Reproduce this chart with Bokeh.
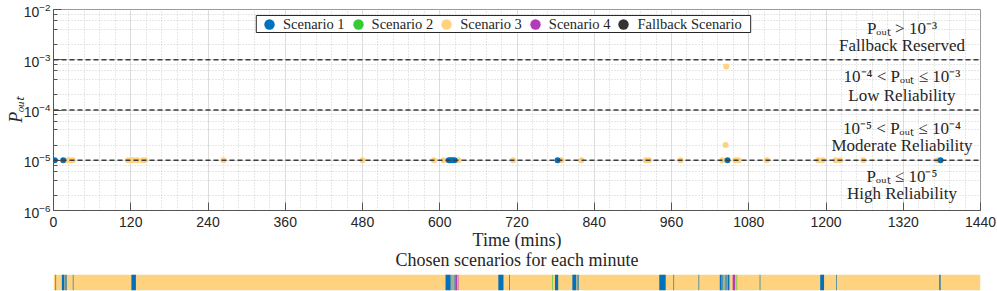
from bokeh.plotting import figure
from bokeh.models import (FixedTicker, LogTicker, Span, Label, Legend, LegendItem,
                          ColumnDataSource, Range1d, Title, BoxAnnotation)
from bokeh.layouts import column
from bokeh.embed import file_html
from bokeh.resources import INLINE

# ---------------- data ----------------
scenario_names = ["Scenario 1", "Scenario 2", "Scenario 3", "Scenario 4", "Fallback Scenario"]
scenario_colors = ["#0072BD", "#33CC33", "#FFD27F", "#B33BB9", "#333333"]

# scatter points (time in minutes, outage probability)
s1_time = [2, 15, 614, 617, 620, 623, 783, 1047, 1378]
s1_pout = [1e-5] * 9
s3_time = [22, 26, 30, 116, 121, 124, 130, 138, 142, 264, 480, 591, 606, 629, 714,
           789, 820, 920, 925, 974, 1039, 1044, 1045, 1059, 1064, 1108, 1188, 1195,
           1215, 1222, 1258, 1373]
s3_pout = [1e-5] * 21 + [2e-5, 7.3e-4] + [1e-5] * 9

# thresholds
thresholds = [1e-3, 1e-4, 1e-5]

# chosen scenario per minute, as runs: [start, end) minute, scenario index
seg_start = [0, 3, 13, 18, 20, 30, 121, 609, 618, 620, 622, 624, 628, 691, 708, 775, 779,
             806, 813, 815, 941, 963, 1002, 1035, 1039, 1041, 1043, 1045, 1047, 1055,
             1061, 1097, 1191, 1216, 1376]
seg_end = [1440, 4, 17, 19, 21, 31, 128, 617, 619, 621, 623, 627, 629, 699, 709, 776, 784,
           812, 814, 816, 951, 964, 1003, 1038, 1040, 1042, 1044, 1046, 1050, 1059,
           1062, 1098, 1197, 1217, 1378]
seg_scen = [3, 1, 1, 1, 1, 1, 1, 1, 2, 1, 1, 4, 4, 1, 1, 2, 1,
            1, 1, 1, 1, 1, 1, 1, 1, 1, 1, 1, 1, 4,
            2, 1, 1, 1, 1]

x_ticks = list(range(0, 1441, 120))
x_minor = list(range(0, 1441, 24))

SERIF = "Liberation Serif"
SANS = "Liberation Sans"

# ---------------- main figure ----------------
p = figure(width=997, height=274, output_backend="svg", toolbar_location=None,
           y_axis_type="log", x_range=Range1d(0, 1440), y_range=Range1d(1e-6, 1e-2),
           min_border_left=53, min_border_right=17, min_border_top=9, min_border_bottom=64)
p.outline_line_color = "#9a9a9a"

p.xaxis.ticker = FixedTicker(ticks=x_ticks, minor_ticks=x_minor)
p.yaxis.ticker = LogTicker(desired_num_ticks=5)
for ax in (p.xaxis[0], p.yaxis[0]):
    ax.major_label_text_font = SANS
    ax.major_label_text_font_size = "14px"
    ax.major_label_text_color = "#262626"
    ax.axis_line_color = "#555555"
    ax.major_tick_line_color = "#555555"
    ax.minor_tick_line_color = "#555555"
    ax.major_tick_in = 8
    ax.major_tick_out = 0
    ax.minor_tick_in = 0
    ax.minor_tick_out = 0
    ax.axis_label_text_font = SERIF
    ax.axis_label_text_font_style = "normal"
    ax.axis_label_text_font_size = "18px"
    ax.axis_label_text_color = "#262626"
p.yaxis.minor_tick_in = 4
p.xaxis.axis_label = "Time (mins)"
p.xaxis.axis_label_standoff = 0
p.xaxis.major_label_standoff = 6
p.yaxis.axis_label = "Pₒᵤₜ"
p.yaxis.axis_label_text_font_style = "italic"
p.yaxis.axis_label_standoff = -5
p.yaxis.major_label_standoff = 3

p.xgrid.grid_line_color = "#dcdcdc"
p.ygrid.grid_line_color = "#dcdcdc"
p.xgrid.minor_grid_line_color = "#cfcfcf"
p.ygrid.minor_grid_line_color = "#cfcfcf"
p.xgrid.minor_grid_line_dash = "1 2"
p.ygrid.minor_grid_line_dash = "1 2"

for t in thresholds:
    p.add_layout(Span(location=t, dimension="width", line_color="#3c3c3c",
                      line_dash="5 3", line_width=1.5))

src1 = ColumnDataSource(dict(x=s1_time, y=s1_pout))
src3 = ColumnDataSource(dict(x=s3_time, y=s3_pout))
p.scatter("x", "y", source=src3, size=6, color=scenario_colors[2], line_color=None)
p.scatter("x", "y", source=src1, size=6, color=scenario_colors[0], line_color=None)

# legend frame (white box with border), then the legend itself on top of it
p.add_layout(BoxAnnotation(left=315, right=1083, bottom=10 ** -2.458, top=10 ** -2.119,
                           fill_color="white", fill_alpha=1.0,
                           line_color="#262626", line_width=1, line_alpha=1.0))
nan = float("nan")
items = []
for name, col in zip(scenario_names, scenario_colors):
    r = p.scatter(x=[nan], y=[nan], size=11, fill_color=col, line_color=None)
    items.append(LegendItem(label=name, renderers=[r]))
legend = Legend(items=items, orientation="horizontal", location=(203, 172),
                label_text_font=SERIF, label_text_font_size="14.5px",
                label_text_color="#262626",
                glyph_width=26, glyph_height=28, spacing=0, padding=0, margin=0,
                label_standoff=1, border_line_color=None,
                background_fill_alpha=0.0)
p.add_layout(legend)

annots = [("Pₒᵤₜ > 10⁻³", 10 ** -2.37), ("Fallback Reserved", 10 ** -2.72),
          ("10⁻⁴ < Pₒᵤₜ ≤ 10⁻³", 10 ** -3.34), ("Low Reliability", 10 ** -3.72),
          ("10⁻⁵ < Pₒᵤₜ ≤ 10⁻⁴", 10 ** -4.37), ("Moderate Reliability", 10 ** -4.71),
          ("Pₒᵤₜ ≤ 10⁻⁵", 10 ** -5.32), ("High Reliability", 10 ** -5.66)]
for txt, yy in annots:
    p.add_layout(Label(x=1318, y=yy, text=txt, text_align="center", text_baseline="middle",
                       text_font=SERIF, text_font_size="17px", text_color="#262626"))

p.add_layout(Title(text="Chosen scenarios for each minute", align="center",
                   text_font=SERIF, text_font_size="18px", text_font_style="normal",
                   text_color="#262626", standoff=-9), "below")

# ---------------- strip figure ----------------
p2 = figure(width=997, height=17, output_backend="svg", toolbar_location=None,
            x_range=Range1d(0, 1440), y_range=Range1d(0, 1),
            min_border_left=53, min_border_right=17, min_border_top=0,
            min_border_bottom=1)
p2.axis.visible = False
p2.grid.visible = False
p2.outline_line_color = None
seg_colors = [scenario_colors[s - 1] for s in seg_scen]
seg_src = ColumnDataSource(dict(left=seg_start, right=seg_end, c=seg_colors))
p2.quad(left="left", right="right", bottom=0, top=1, source=seg_src,
        fill_color="c", line_color=None)

layout = column(p, p2, spacing=0)
open("out.html", "w").write(file_html(layout, INLINE))
